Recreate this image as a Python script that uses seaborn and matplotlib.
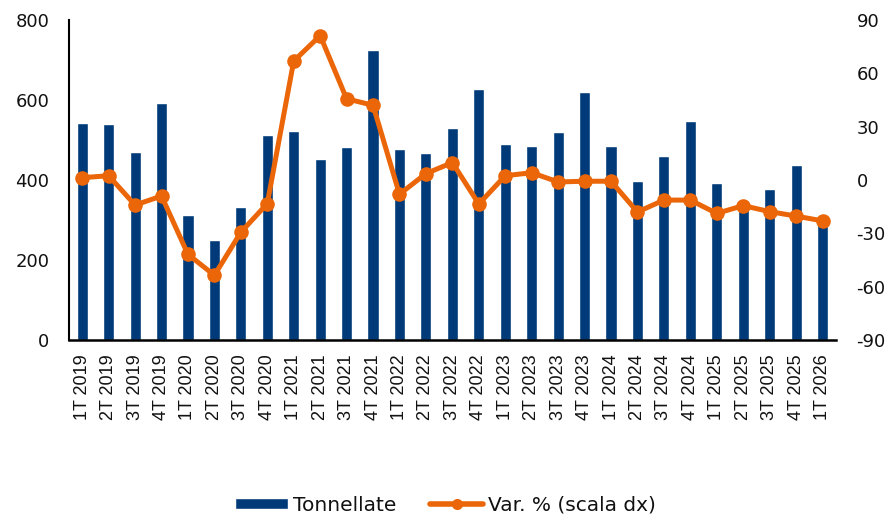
import numpy as np
import pandas as pd
import matplotlib
matplotlib.use("Agg")
import matplotlib.pyplot as plt
import seaborn as sns

# quarterly data
quarters = [
    "1T 2019", "2T 2019", "3T 2019", "4T 2019",
    "1T 2020", "2T 2020", "3T 2020", "4T 2020",
    "1T 2021", "2T 2021", "3T 2021", "4T 2021",
    "1T 2022", "2T 2022", "3T 2022", "4T 2022",
    "1T 2023", "2T 2023", "3T 2023", "4T 2023",
    "1T 2024", "2T 2024", "3T 2024", "4T 2024",
    "1T 2025", "2T 2025", "3T 2025", "4T 2025",
    "1T 2026",
]
tonnellate = [
    542, 541, 471, 593,
    313, 250, 332, 512,
    522, 452, 483, 725,
    478, 467, 529, 627,
    489, 485, 519, 621,
    485, 397, 461, 548,
    392, 335, 378, 437,
    290,
]
var_pct = [
    1.3, 2.4, -14.1, -9.0,
    -41.8, -53.6, -29.4, -13.3,
    66.9, 81.2, 45.7, 42.0,
    -8.0, 3.6, 9.8, -13.5,
    2.4, 4.1, -1.1, -0.7,
    -0.7, -18.0, -11.3, -11.3,
    -18.8, -14.4, -17.8, -20.3,
    -23.0,
]

BAR_COLOR = "#003A78"
LINE_COLOR = "#EB6608"
TEXT_COLOR = "#111111"

df = pd.DataFrame({"quarter": quarters, "t": tonnellate, "var": var_pct})
df["pos"] = np.arange(len(df))

sns.set_style("white")
plt.rcParams["font.family"] = ["DejaVu Sans"]
plt.rcParams["axes.unicode_minus"] = False
plt.rcParams["text.color"] = TEXT_COLOR
plt.rcParams["xtick.color"] = TEXT_COLOR
plt.rcParams["ytick.color"] = TEXT_COLOR

fig = plt.figure(figsize=(8.91, 5.15), dpi=100)
ax = fig.add_axes([0.0774, 0.3398, 0.8606, 0.6214])

sns.barplot(data=df, x="quarter", y="t", color=BAR_COLOR, width=0.42,
            saturation=1, ax=ax, label="Tonnellate")

ax2 = ax.twinx()
sns.lineplot(data=df, x="pos", y="var", color=LINE_COLOR, linewidth=3.6,
             marker="o", markersize=10.5, markeredgewidth=0, ax=ax2,
             label="Var. % (scala dx)")

ax.set_xlim(-0.5, len(df) - 0.5)
ax.set_ylim(0, 800)
ax.set_yticks(np.arange(0, 801, 200))
ax2.set_ylim(-90, 90)
ax2.set_yticks(np.arange(-90, 91, 30))

ax.set_xlabel("")
ax.set_ylabel("")
ax2.set_xlabel("")
ax2.set_ylabel("")

ax.set_xticks(df["pos"])
ax.set_xticklabels(quarters, rotation=90, fontsize=13,
                   family=["Liberation Sans", "DejaVu Sans"])
ax.tick_params(axis="x", length=0, pad=10)
ax.tick_params(axis="y", length=0, pad=14, labelsize=13)
ax2.tick_params(axis="y", length=0, pad=15, labelsize=13)

for side in ["top", "right"]:
    ax.spines[side].set_visible(False)
    ax2.spines[side].set_visible(False)
ax2.spines["left"].set_visible(False)
ax2.spines["bottom"].set_visible(False)
ax.spines["left"].set_color("black")
ax.spines["bottom"].set_color("black")
ax.spines["left"].set_linewidth(1.5)
ax.spines["bottom"].set_linewidth(1.8)

h1, l1 = ax.get_legend_handles_labels()
h2, l2 = ax2.get_legend_handles_labels()
if ax.get_legend():
    ax.get_legend().remove()
if ax2.get_legend():
    ax2.get_legend().remove()
leg = fig.legend(h1 + h2, l1 + l2, loc="lower center", ncol=2, frameon=False,
                 fontsize=14.5, bbox_to_anchor=(0.5, -0.035), handlelength=2.6,
                 handleheight=0.5, handletextpad=0.25, columnspacing=1.7)
line_handle = leg.legend_handles[1]
line_handle.set_linewidth(4)
line_handle.set_markersize(8)

fig.savefig("out.png", dpi=100)
